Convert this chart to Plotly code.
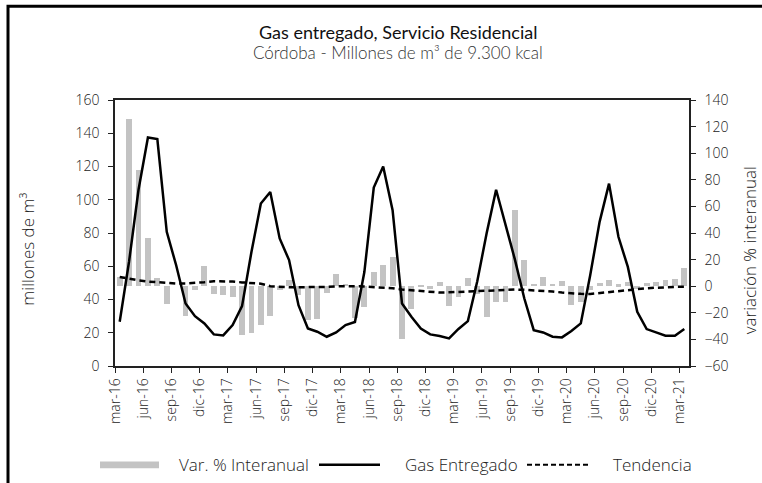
import plotly.graph_objects as go

# Monthly series, mar-16 .. mar-21
years = ["16", "17", "18", "19", "20", "21"]
month_abbr = ["ene", "feb", "mar", "abr", "may", "jun",
              "jul", "ago", "sep", "oct", "nov", "dic"]
meses = [f"{m}-{y}" for y in years for m in month_abbr][2:63]

# Gas entregado (millones de m3)
gas = [26.6, 63.0, 106.0, 137.5, 136.5, 80.7, 60.6, 37.6, 30.0, 25.6, 19.0, 18.4,
       24.6, 36.0, 68.6, 97.7, 104.7, 76.7, 63.7, 36.6, 22.6, 20.6, 17.6, 20.2,
       24.6, 26.5, 56.5, 107.3, 120.0, 93.7, 37.6, 29.6, 22.6, 19.0, 18.0, 16.6,
       22.3, 27.0, 51.0, 80.0, 106.0, 85.0, 64.0, 40.6, 21.6, 20.2, 17.6, 17.2,
       21.0, 25.6, 54.6, 86.7, 109.7, 77.7, 59.6, 32.6, 22.2, 20.2, 18.2, 18.2, 22.2]

# Tendencia (millones de m3)
tendencia = [53.5, 52.3, 51.5, 50.8, 50.3, 50.0, 49.6, 49.6, 49.8, 50.4, 51.0, 51.0,
             50.8, 50.3, 50.0, 49.5, 48.0, 47.6, 47.4, 47.4, 47.4, 47.4, 47.6, 47.9,
             48.1, 48.0, 47.8, 47.6, 47.4, 46.8, 46.0, 45.5, 45.0, 44.4, 44.2, 44.3,
             44.6, 44.6, 44.8, 45.2, 45.6, 45.8, 46.0, 45.8, 45.6, 45.2, 44.8, 44.2,
             43.6, 43.4, 43.3, 43.8, 44.4, 45.0, 45.5, 46.2, 46.8, 47.2, 47.5, 47.6, 47.6]

# Variacion % interanual
var_interanual = [7, 126, 87, 36, 6, -13.5, 0, -22.5, -2.5, 15, -6, -6.5,
                  -8, -37, -35, -29.5, -22.5, -3, 5, -6.5, -25.5, -24.5, -5, 9,
                  2, -24, -16, 11, 16, 22, -40, -17, 1, -2, 3.5, -15,
                  -8, 6, -5.5, -23.5, -12, -12, 57, 19.5, 2, 7, 2, 4,
                  -14, -12, -3, 2.5, 4.5, 1.5, 3.3, -2, 2.5, 3.5, 4.5, 5.5, 13.5]

x = list(range(len(meses)))
tick_idx = [i for i in x if i % 3 == 0]
tick_pos = [i - 0.5 for i in tick_idx]
tick_txt = [meses[i] for i in tick_idx]

FONT = "Open Sans"
INK = "#222222"
BAR = "#c3c3c3"

fig = go.Figure()
fig.add_trace(go.Bar(x=x, y=var_interanual, yaxis="y", marker_color=BAR,
                     marker_line_width=0, width=0.62, name="Var. % Interanual",
                     hovertext=meses, showlegend=False))
fig.add_trace(go.Scatter(x=x, y=gas, yaxis="y2", mode="lines",
                         line=dict(color="black", width=2.5), name="Gas Entregado",
                         hovertext=meses, showlegend=False))
fig.add_trace(go.Scatter(x=x, y=tendencia, yaxis="y2", mode="lines",
                         line=dict(color="black", width=2.5, dash="6px,4px"),
                         name="Tendencia", hovertext=meses, showlegend=False))

tickfont = dict(family=FONT, size=14, color=INK, weight=300)
fig.update_layout(
    width=762, height=483,
    margin=dict(l=115, r=73, t=99.5, b=117),
    paper_bgcolor="white", plot_bgcolor="white",
    bargap=0, showlegend=False,
    xaxis=dict(range=[-0.5, len(meses) - 0.5], tickmode="array",
               tickvals=tick_pos, ticktext=tick_txt, tickangle=-90,
               ticks="outside", ticklen=5, tickwidth=1.2, tickcolor="#222",
               showline=True, linecolor="#222", linewidth=1.5, mirror=True,
               showgrid=False, zeroline=False, tickfont=tickfont),
    yaxis=dict(side="right", range=[-60, 140], dtick=20, tick0=0,
               ticks="outside", ticklen=5, tickwidth=1.2, tickcolor="#222",
               showline=True, linecolor="#222", linewidth=1.5,
               showgrid=False, zeroline=False, tickfont=tickfont,
               ticklabelstandoff=6),
    yaxis2=dict(side="left", overlaying="y", range=[0, 160], dtick=20,
                ticks="outside", ticklen=5, tickwidth=1.2, tickcolor="#222",
                showline=True, linecolor="#222", linewidth=1.5,
                showgrid=False, zeroline=False, tickfont=tickfont,
                ticklabelstandoff=6),
)

# Chart frame
fig.add_shape(type="rect", xref="paper", yref="paper",
              x0=-0.1864, x1=1.3, y0=-0.6, y1=1.3527,
              line=dict(color="black", width=3), fillcolor="rgba(0,0,0,0)",
              layer="above")

# Titles
fig.add_annotation(text="Gas entregado, Servicio Residencial", xref="paper", yref="paper",
                   x=0.493, y=1.2555, xanchor="center", yanchor="middle", showarrow=False,
                   font=dict(family="Lato", size=18, color="#111"))
fig.add_annotation(text="Córdoba - Millones de m³ de 9.300 kcal", xref="paper", yref="paper",
                   x=0.493, y=1.1785, xanchor="center", yanchor="middle", showarrow=False,
                   font=dict(family="Lato", size=17, color="#333", weight=300))

# Axis titles
axis_title_font = dict(family=FONT, size=17, color=INK, weight=300)
fig.add_annotation(text="millones de m³", xref="paper", yref="paper",
                   x=-0.1516, y=0.441, textangle=-90, showarrow=False,
                   xanchor="center", yanchor="middle", font=axis_title_font)
fig.add_annotation(text="variación % interanual", xref="paper", yref="paper",
                   x=1.1045, y=0.435, textangle=-90, showarrow=False,
                   xanchor="center", yanchor="middle", font=axis_title_font)

# Legend
ly = -0.3715
def px_x(p):
    return (p - 115) / 574.0

fig.add_shape(type="rect", xref="paper", yref="paper",
              x0=px_x(100), x1=px_x(159), y0=ly - 3.4 / 266.5, y1=ly + 3.4 / 266.5,
              fillcolor=BAR, line_width=0)
fig.add_shape(type="line", xref="paper", yref="paper",
              x0=px_x(319), x1=px_x(380), y0=ly, y1=ly,
              line=dict(color="black", width=2.5))
fig.add_shape(type="line", xref="paper", yref="paper",
              x0=px_x(527), x1=px_x(588), y0=ly, y1=ly,
              line=dict(color="black", width=2, dash="5px,3px"))
legend_font = dict(family=FONT, size=17, color=INK, weight=300)
for label, right in [("Var. % Interanual", 311), ("Gas Entregado", 520), ("Tendencia", 694)]:
    fig.add_annotation(text=label, xref="paper", yref="paper", x=px_x(right), y=ly,
                       xanchor="right", yanchor="middle", showarrow=False, font=legend_font)

fig.write_html("out.html")
